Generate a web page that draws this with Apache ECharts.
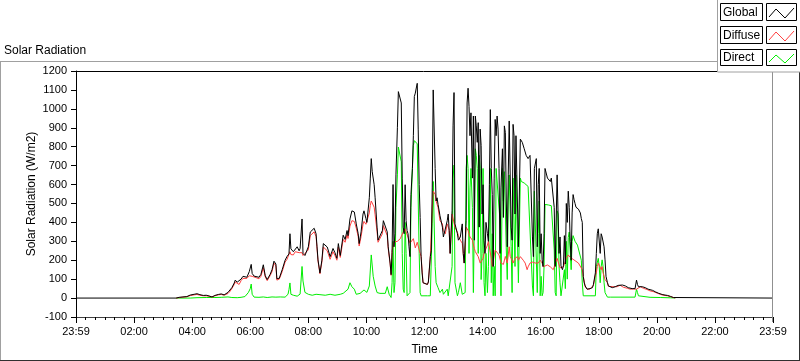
<!DOCTYPE html>
<html><head><meta charset="utf-8">
<script src="https://cdn.jsdelivr.net/npm/echarts/dist/echarts.min.js"></script>
<style>html,body{margin:0;padding:0;background:#fff}#c{width:800px;height:361px}</style>
</head><body><div id="c"></div>
<script>
// time in minutes after midnight, value in W/m2
const globalData = [[0,0],[207,0],[213,4],[221,6],[229,8],[236,16],[244,20],[250,23],[256,18],[263,14],[269,15],[275,11],[281,6],[287,14],[294,19],[300,22],[306,17],[310,22],[314,30],[318,40],[322,55],[327,80],[329,95],[333,84],[337,78],[341,100],[345,115],[349,121],[353,110],[358,140],[362,178],[364,130],[368,116],[372,118],[378,110],[382,125],[387,176],[391,118],[395,98],[401,125],[405,150],[409,195],[413,180],[415,102],[420,105],[426,150],[432,200],[436,220],[440,233],[442,340],[444,260],[449,245],[453,255],[457,271],[461,250],[463,262],[467,418],[469,236],[473,225],[480,271],[484,349],[488,357],[492,369],[496,340],[498,271],[500,202],[504,133],[508,200],[511,288],[515,285],[519,270],[521,254],[525,219],[529,215],[531,262],[535,240],[539,210],[542,288],[546,225],[550,215],[552,332],[556,310],[560,357],[562,330],[566,418],[570,461],[575,455],[579,392],[583,340],[585,288],[589,350],[593,444],[595,461],[599,420],[601,400],[606,530],[608,634],[610,737],[612,668],[616,599],[618,530],[622,375],[624,306],[628,306],[633,357],[635,409],[639,415],[643,350],[645,271],[649,185],[651,124],[653,240],[655,600],[657,271],[659,340],[661,651],[664,900],[666,1091],[668,1100],[670,1095],[672,1031],[674,634],[676,375],[678,340],[680,599],[682,409],[684,357],[686,340],[688,271],[690,219],[692,547],[695,685],[697,858],[699,1065],[701,1083],[703,1110],[705,1135],[707,893],[709,600],[711,426],[713,219],[715,133],[717,81],[721,75],[726,72],[728,85],[732,219],[734,250],[736,582],[738,1100],[740,1090],[742,685],[744,513],[746,530],[748,495],[752,435],[757,375],[759,323],[763,330],[767,409],[769,444],[771,357],[773,236],[777,461],[779,910],[781,1086],[783,392],[788,340],[790,306],[794,323],[798,392],[800,236],[802,185],[806,409],[808,1031],[810,1109],[812,1013],[814,858],[816,979],[819,634],[821,962],[823,306],[825,962],[827,910],[829,823],[831,927],[833,375],[835,893],[837,806],[839,444],[841,599],[843,306],[845,236],[847,400],[850,340],[852,300],[854,599],[856,996],[858,685],[860,547],[862,167],[864,634],[866,944],[868,858],[870,962],[872,893],[874,685],[876,236],[878,582],[881,789],[883,426],[885,910],[887,875],[889,513],[891,271],[893,651],[895,936],[897,927],[899,375],[901,306],[903,918],[905,858],[907,444],[909,858],[912,850],[914,271],[918,840],[920,832],[922,823],[926,789],[928,789],[930,754],[934,737],[936,737],[938,754],[943,323],[945,219],[947,685],[951,737],[953,271],[955,599],[957,685],[959,236],[961,340],[963,202],[965,167],[967,340],[969,685],[971,685],[974,634],[976,642],[980,616],[982,634],[984,642],[986,634],[988,478],[990,167],[992,167],[994,651],[996,651],[998,236],[1000,323],[1002,170],[1005,150],[1007,170],[1009,330],[1011,180],[1013,500],[1015,400],[1017,565],[1019,480],[1021,300],[1023,200],[1025,450],[1027,547],[1029,520],[1031,500],[1033,480],[1036,470],[1038,470],[1040,460],[1042,450],[1044,420],[1046,400],[1048,115],[1050,80],[1052,64],[1056,47],[1062,50],[1067,55],[1069,72],[1073,133],[1075,236],[1077,340],[1079,366],[1081,357],[1083,236],[1085,340],[1087,323],[1089,315],[1091,271],[1093,202],[1095,115],[1098,81],[1100,64],[1104,55],[1108,55],[1110,64],[1114,60],[1118,64],[1120,67],[1124,72],[1129,69],[1131,60],[1135,64],[1139,55],[1141,55],[1145,50],[1149,50],[1151,52],[1155,50],[1158,95],[1160,72],[1162,60],[1166,64],[1170,60],[1172,55],[1176,55],[1180,52],[1182,47],[1186,43],[1191,41],[1193,38],[1197,33],[1201,29],[1203,26],[1207,22],[1211,19],[1213,17],[1217,16],[1222,14],[1224,12],[1228,9],[1232,7],[1234,3],[1238,0],[1440,0]];

const diffuseData = [[207,0],[215,3],[221,5],[229,7],[236,13],[244,17],[250,19],[256,15],[263,12],[269,12],[275,10],[281,5],[287,12],[294,17],[300,19],[306,15],[310,19],[314,24],[318,35],[322,50],[327,72],[329,85],[333,75],[337,72],[341,92],[345,104],[349,108],[353,104],[358,118],[362,125],[364,115],[368,108],[372,108],[378,102],[382,115],[387,160],[391,112],[395,92],[401,118],[405,140],[409,185],[413,170],[415,95],[420,100],[426,140],[432,190],[436,205],[440,215],[442,245],[444,230],[449,228],[453,245],[457,255],[461,240],[463,250],[467,240],[469,225],[473,215],[480,255],[484,330],[488,340],[492,350],[496,325],[498,260],[500,195],[504,128],[508,190],[511,270],[515,265],[519,250],[521,235],[525,205],[529,205],[531,245],[535,225],[539,200],[542,270],[546,215],[550,205],[552,310],[556,295],[560,335],[562,315],[566,380],[570,409],[575,405],[579,370],[583,325],[585,275],[589,325],[593,390],[595,405],[599,390],[601,380],[606,450],[608,490],[610,513],[612,505],[616,480],[618,440],[622,350],[624,295],[628,290],[633,340],[635,383],[639,375],[643,330],[645,262],[649,180],[651,120],[653,250],[657,296],[664,300],[670,314],[676,349],[680,366],[686,320],[690,290],[697,314],[701,265],[705,295],[709,255],[713,219],[717,81],[721,75],[726,72],[728,85],[732,219],[736,478],[738,565],[740,560],[742,548],[744,513],[748,478],[752,409],[757,392],[759,357],[763,340],[767,392],[771,360],[773,236],[777,444],[779,452],[783,375],[788,348],[790,330],[794,306],[798,290],[800,236],[802,185],[806,375],[810,357],[814,323],[819,306],[823,262],[825,245],[827,236],[831,219],[835,185],[837,176],[839,190],[841,210],[843,236],[845,236],[850,280],[852,300],[856,290],[858,210],[860,167],[862,160],[866,254],[870,262],[874,228],[878,185],[883,178],[887,220],[891,185],[895,271],[897,220],[901,200],[903,185],[907,210],[912,219],[914,200],[918,219],[922,210],[924,200],[928,185],[932,150],[934,165],[938,185],[943,190],[945,200],[949,185],[953,190],[955,185],[959,200],[963,185],[965,165],[969,165],[974,175],[976,185],[980,165],[984,160],[986,150],[990,150],[994,210],[996,200],[1000,160],[1002,160],[1007,165],[1013,210],[1017,228],[1021,215],[1027,205],[1031,195],[1038,185],[1042,176],[1046,150],[1048,115],[1052,60],[1056,47],[1062,48],[1069,68],[1073,120],[1075,133],[1077,167],[1079,185],[1083,176],[1085,150],[1087,167],[1089,133],[1093,98],[1098,81],[1100,62],[1104,52],[1110,60],[1114,57],[1118,60],[1124,68],[1131,57],[1135,60],[1139,52],[1145,47],[1151,48],[1158,47],[1162,55],[1166,60],[1172,52],[1176,50],[1180,45],[1186,38],[1193,34],[1197,29],[1201,26],[1207,20],[1213,15],[1222,12],[1228,8],[1234,3],[1238,0]];

const directData = [[207,0],[236,0],[250,2],[269,3],[287,3],[300,4],[314,6],[322,3],[333,2],[341,4],[349,8],[356,29],[360,50],[362,74],[364,20],[368,5],[378,4],[387,6],[395,3],[405,6],[413,5],[422,6],[432,5],[438,20],[440,45],[442,80],[444,20],[449,15],[457,10],[463,21],[467,167],[469,90],[473,30],[480,20],[488,15],[496,20],[504,18],[515,15],[525,20],[535,15],[546,20],[552,25],[556,20],[562,47],[566,81],[570,60],[575,47],[579,20],[587,25],[595,43],[601,30],[606,64],[610,228],[614,115],[618,64],[622,29],[628,25],[639,25],[643,60],[647,20],[649,13],[651,3],[653,81],[655,300],[657,29],[659,81],[661,478],[664,651],[666,798],[668,806],[670,798],[672,720],[674,236],[676,47],[678,29],[680,400],[682,236],[684,12],[688,12],[690,29],[692,478],[695,685],[697,806],[699,832],[701,832],[705,815],[707,513],[709,236],[711,29],[713,12],[717,12],[726,12],[732,12],[736,392],[738,616],[742,167],[744,81],[748,55],[752,29],[757,47],[759,20],[763,29],[767,47],[769,12],[773,20],[777,167],[779,634],[781,703],[783,81],[788,12],[790,29],[794,81],[798,20],[800,12],[804,29],[806,685],[808,754],[810,685],[812,236],[814,582],[816,685],[819,478],[821,29],[825,789],[827,754],[829,685],[831,236],[833,754],[835,685],[837,98],[839,236],[841,685],[843,81],[845,12],[847,236],[850,29],[852,167],[856,685],[858,81],[860,340],[862,12],[864,167],[866,12],[868,685],[870,694],[872,685],[876,409],[878,12],[881,685],[883,513],[885,668],[887,668],[889,254],[891,98],[893,513],[895,651],[897,651],[899,271],[901,29],[903,634],[905,634],[907,167],[909,651],[912,642],[914,81],[918,634],[920,616],[922,616],[926,608],[928,599],[930,599],[934,590],[936,585],[938,582],[943,64],[945,12],[947,565],[951,556],[953,29],[955,340],[957,513],[959,12],[961,115],[963,12],[965,29],[967,167],[969,495],[971,492],[976,492],[980,492],[982,488],[984,478],[988,254],[990,29],[992,12],[994,461],[996,444],[998,167],[1000,81],[1002,12],[1005,12],[1009,150],[1011,50],[1013,300],[1015,100],[1017,320],[1019,349],[1021,340],[1023,150],[1025,300],[1027,330],[1029,320],[1031,300],[1036,280],[1040,270],[1044,200],[1046,80],[1048,12],[1052,12],[1062,12],[1073,12],[1075,167],[1079,210],[1081,167],[1083,81],[1085,167],[1087,202],[1089,167],[1091,81],[1093,29],[1098,5],[1104,5],[1124,5],[1155,5],[1158,47],[1160,29],[1162,12],[1166,5],[1186,4],[1207,3],[1234,1],[1238,0]];

const seriesNames = ['Global', 'Diffuse', 'Direct'];
const seriesColors = ['#000000', '#ff4040', '#00ee00'];
const yTicks = {min: -100, max: 1200, step: 100};
const xTicks = {min: 0, max: 1440, step: 120, edgeLabel: '23:59'};

const FONT = 'Liberation Sans';
const chart = echarts.init(document.getElementById('c'), null, {renderer: 'canvas'});

function legendRow(i, y, h) {
  const name = seriesNames[i], col = seriesColors[i];
  return [
    {type: 'rect', shape: {x: 720.5, y: y + 0.5, width: 42, height: h}, style: {fill: '#fff', stroke: '#000', lineWidth: 1}, z: 101},
    {type: 'text', x: 723, y: y + 1 + h / 2, style: {text: name, font: '12px ' + FONT, fill: '#000', verticalAlign: 'middle'}, z: 102},
    {type: 'rect', shape: {x: 766.5, y: y + 0.5, width: 30, height: h}, style: {fill: '#fff', stroke: '#000', lineWidth: 1}, z: 101},
    {type: 'polyline', shape: {points: [[769, y + h - 3], [776, y + 6], [785, y + h - 2], [794, y + 5]]}, style: {stroke: col, lineWidth: 1, fill: null}, z: 102}
  ];
}

const option = {
  animation: false,
  backgroundColor: '#ffffff',
  textStyle: {fontFamily: FONT},
  title: {text: 'Solar Radiation', left: 4, top: 45, padding: 0, textStyle: {fontSize: 12, fontWeight: 'normal', color: '#000', fontFamily: FONT}},
  grid: {left: 76, right: 27, top: 71, bottom: 39, containLabel: false},
  xAxis: {
    type: 'value', min: xTicks.min, max: xTicks.max, interval: xTicks.step,
    name: 'Time', nameLocation: 'middle', nameGap: 27,
    nameTextStyle: {fontSize: 12, color: '#000', fontFamily: FONT},
    axisLine: {show: true, onZero: false, lineStyle: {color: '#404040', width: 1}},
    axisTick: {show: true, length: 6, lineStyle: {color: '#000'}},
    minorTick: {show: true, splitNumber: 6, length: 3, lineStyle: {color: '#000'}},
    splitLine: {show: false},
    axisLabel: {
      fontSize: 11, color: '#000', margin: 9, fontFamily: FONT,
      formatter: function (v) {
        if (v === xTicks.min || v === xTicks.max) return xTicks.edgeLabel;
        const h = Math.floor(v / 60);
        return (h < 10 ? '0' : '') + h + ':00';
      }
    }
  },
  yAxis: {
    type: 'value', min: yTicks.min, max: yTicks.max, interval: yTicks.step,
    offset: 2,
    name: 'Solar Radiation (W/m2)', nameLocation: 'middle', nameGap: 36, nameMoveOverlap: false,
    nameTextStyle: {fontSize: 12, color: '#000', fontFamily: FONT},
    axisLine: {show: true, lineStyle: {color: '#000', width: 1}},
    axisTick: {show: true, length: 5, lineStyle: {color: '#000'}},
    splitLine: {show: false},
    axisLabel: {fontSize: 11, color: '#000', margin: 7, fontFamily: FONT, formatter: function (v) { return String(v); }}
  },
  series: [
    {name: 'Direct', type: 'line', data: directData, showSymbol: false, symbol: 'none', lineStyle: {color: seriesColors[2], width: 1}, itemStyle: {color: seriesColors[2]}, z: 2},
    {name: 'Diffuse', type: 'line', data: diffuseData, showSymbol: false, symbol: 'none', lineStyle: {color: seriesColors[1], width: 1}, itemStyle: {color: seriesColors[1]}, z: 3},
    {name: 'Global', type: 'line', data: globalData, showSymbol: false, symbol: 'none', lineStyle: {color: seriesColors[0], width: 1}, itemStyle: {color: seriesColors[0]}, z: 4}
  ],
  graphic: [
    {type: 'line', shape: {x1: 0, y1: 61.5, x2: 800, y2: 61.5}, style: {stroke: '#a0a0a0', lineWidth: 1}, z: 50},
    {type: 'line', shape: {x1: 0.5, y1: 61, x2: 0.5, y2: 361}, style: {stroke: '#a0a0a0', lineWidth: 1}, z: 50},
    {type: 'line', shape: {x1: 0, y1: 360.5, x2: 800, y2: 360.5}, style: {stroke: '#303030', lineWidth: 1}, z: 50},
    {type: 'line', shape: {x1: 799.5, y1: 61, x2: 799.5, y2: 361}, style: {stroke: '#303030', lineWidth: 1}, z: 50},
    {type: 'line', shape: {x1: 74, y1: 71.5, x2: 773, y2: 71.5}, style: {stroke: '#000', lineWidth: 1}, z: 50},
    {type: 'line', shape: {x1: 772.5, y1: 71, x2: 772.5, y2: 322}, style: {stroke: '#909090', lineWidth: 1}, z: 50},
    {type: 'rect', shape: {x: 717.5, y: -1, width: 90, height: 73}, style: {fill: '#fff', stroke: '#a0a0a0', lineWidth: 1}, z: 100}
  ].concat(legendRow(0, 3, 17), legendRow(1, 26, 17), legendRow(2, 49, 16))
};
chart.setOption(option);
</script>
</body></html>
